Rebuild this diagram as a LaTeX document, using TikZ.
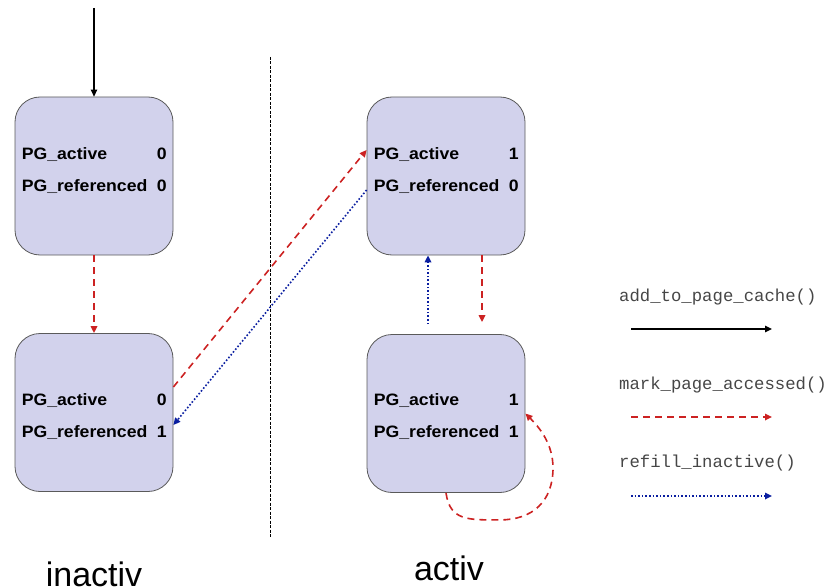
\documentclass[tikz,border=0pt]{standalone}
\usepackage{fontspec}
\setmainfont{Liberation Sans}
\newfontfamily\flagfont[FakeStretch=1.07]{Liberation Sans}
\newfontfamily\legfont{Liberation Mono}
\usetikzlibrary{arrows.meta,calc}
\definecolor{boxfill}{RGB}{210,210,236}
\definecolor{boxline}{RGB}{90,90,90}
\definecolor{accred}{RGB}{204,34,34}
\definecolor{refblue}{RGB}{10,30,160}
\definecolor{legtext}{RGB}{70,70,70}
\begin{document}
\begin{tikzpicture}[x=1pt,y=-1pt,
  statebox/.style={draw=boxline, line width=0.8pt, fill=boxfill, rounded corners=25pt,
    minimum width=158pt, minimum height=158pt, inner sep=0pt},
  flags/.style={anchor=west, inner sep=0pt, font=\flagfont\bfseries\fontsize{16.5}{32}\selectfont},
  tip/.style={-{Triangle[length=7pt,width=6.5pt]}},
  addarr/.style={tip, line width=1.3pt, black},
  markarr/.style={tip, line width=1.6pt, accred, dash pattern=on 7pt off 5pt},
  refarr/.style={tip, line width=1.6pt, refblue, dash pattern=on 1.6pt off 2pt},
  legtxt/.style={anchor=west, inner sep=0pt, text=legtext, font=\legfont\fontsize{17.3}{20}\selectfont},
  listlabel/.style={inner sep=0pt, font=\fontsize{34}{40}\selectfont}]
\useasboundingbox (0,0) rectangle (830,588);
% boxes
\node[statebox] (tl) at (94,176) {};
\node[statebox] (bl) at (94,412.5) {};
\node[statebox] (tr) at (446,176) {};
\node[statebox] (br) at (446,413.5) {};
% texts
\newcommand\flagtab[2]{\begin{tabular}{@{}p{135pt}@{}l@{}}PG\_active & #1\\ PG\_referenced & #2\end{tabular}}
\node[flags] (tlt) at ($(tl.west)+(7,-7)$) {\flagtab{0}{0}};
\node[flags] (blt) at ($(bl.west)+(7,2.5)$) {\flagtab{0}{1}};
\node[flags] (trt) at ($(tr.west)+(7,-7)$) {\flagtab{1}{0}};
\node[flags] (brt) at ($(br.west)+(7,1.5)$) {\flagtab{1}{1}};
% separator
\coordinate (sepa) at (270,57);
\coordinate (sepb) at (270,537);
\draw[line width=0.6pt, dash pattern=on 3pt off 1.5pt] (sepa) -- (sepb);
% start arrow
\coordinate (start) at (94,8);
\draw[addarr] (start) -- (tl.north);
% transitions
\draw[markarr] (tl.south) -- (bl.north);
\draw[markarr] ($(bl.east)+(0,-25.5)$) -- ($(tr.west)+(0,-26)$);
\draw[refarr] ($(tr.west)+(0,14)$) -- ($(bl.east)+(0,12.5)$);
\draw[refarr] ($(br.north)+(-18,-10)$) -- ($(tr.south)+(-18,0)$);
\draw[markarr] ($(tr.south)+(36,0)$) -- ($(br.north)+(36,-12)$);
\draw[markarr] (br.south) .. controls +(4,28) and +(-32,0) .. ++(54,27)
  .. controls +(32,0) and +(0,34) .. ++(53,-52)
  .. controls +(0,-24) and +(14,14) .. (br.east);
% legend
\node[legtxt] (l1) at (619,297) {add\_to\_page\_cache()};
\node[legtxt] (l2) at (619,385) {mark\_page\_accessed()};
\node[legtxt] (l3) at (619,463) {refill\_inactive()};
\coordinate (a1s) at (631,329); \coordinate (a1e) at (772,329);
\coordinate (a2s) at (631,417); \coordinate (a2e) at (772,417);
\coordinate (a3s) at (631,496); \coordinate (a3e) at (772,496);
\draw[addarr] (a1s) -- (a1e);
\draw[markarr] (a2s) -- (a2e);
\draw[refarr] (a3s) -- (a3e);
% list labels
\node[listlabel, anchor=base] (inact) at (94,586) {inactiv};
\node[listlabel, anchor=base] (act) at (449,580) {activ};
\end{tikzpicture}
\end{document}
